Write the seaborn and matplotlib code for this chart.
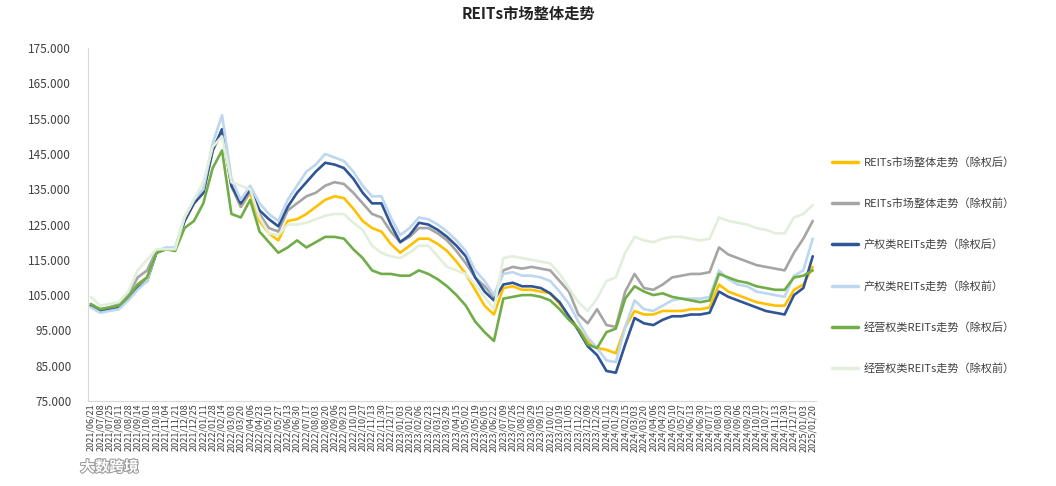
import pandas as pd
import seaborn as sns
import matplotlib.pyplot as plt
import matplotlib.patheffects as pe

# x axis: one label every 17 days, 2021/06/21 .. 2025/01/20
dates = pd.date_range("2021-06-21", periods=78, freq="17D")
tick_labels = list(dates.strftime("%Y/%m/%d"))

# values at each label date (thousands)
reits_after = [102, 101, 101, 102, 104.5, 108, 110, 117, 118, 118,
               126, 131, 134, 146, 151, 136, 130, 134, 126, 122.5,
               120.5, 126, 126.5, 128, 130, 132, 133, 132.5, 129.5, 126,
               124, 123, 119.5, 117, 119, 121, 121, 119.5, 117.5, 114.5,
               111, 106.5, 102, 99.5, 107, 107.5, 106.5, 106.5, 106, 105.5,
               102.5, 99, 95.5, 92, 90, 89.5, 88.5, 96, 100.5, 99.5,
               99.5, 100.5, 100.5, 100.5, 101, 101, 101.5, 108, 106, 105,
               104, 103, 102.5, 102, 102, 106.5, 108, 113]
reits_before = [102, 101, 101.5, 102.5, 105, 110, 112, 117.5, 118, 118,
                126, 131, 134, 146, 152, 136, 130, 134.5, 128, 124,
                123, 129, 131, 133, 134, 136, 137, 136.5, 134, 131,
                128, 127, 123, 120, 121.5, 124, 124, 122.5, 120.5, 117.5,
                114, 110, 107.5, 104.5, 112, 113, 112.5, 113, 112.5, 112,
                109, 106, 99.5, 97, 101, 96.5, 96, 106, 111, 107,
                106.5, 108, 110, 110.5, 111, 111, 111.5, 118.5, 116.5, 115.5,
                114.5, 113.5, 113, 112.5, 112, 117, 121, 126]
property_after = [102, 100.5, 101, 101.5, 104, 107, 109, 117, 118, 118,
                  126, 131, 134, 146, 152, 136, 131, 135, 129, 126.5,
                  124.5, 130, 134, 137, 140, 142.5, 142, 141, 138, 134,
                  131, 131, 125, 120, 122, 125.5, 125, 123.5, 121.5, 119,
                  116, 110, 106, 103.5, 108, 108.5, 107.5, 107.5, 107, 105.5,
                  103, 99, 95, 90.5, 88, 83.5, 83, 91, 98.5, 97,
                  96.5, 98, 99, 99, 99.5, 99.5, 100, 106, 104.5, 103.5,
                  102.5, 101.5, 100.5, 100, 99.5, 105, 107, 116]
property_before = [101.5, 100, 100.5, 101, 103.5, 106.5, 109, 117.5, 118.5, 118.5,
                   127, 132, 135, 148, 156, 138, 132, 136, 131, 128,
                   126, 132, 136, 140, 142, 145, 144, 143, 140, 136,
                   133, 133, 127, 122, 124, 127, 126.5, 125, 123, 120.5,
                   117.5, 112, 109, 105, 111, 111.5, 110.5, 110.5, 110, 109,
                   106, 102.5, 97.5, 93, 90, 86.5, 86, 96, 103.5, 101,
                   100.5, 102, 103.5, 104, 104, 104, 104.5, 112, 109.5, 108,
                   107.5, 106, 105.5, 105, 104.5, 110.5, 112, 121]
operating_after = [102.5, 101, 101.5, 102, 104.5, 108, 110, 117, 118, 117.5,
                   124, 126, 131, 141, 146, 128, 127, 132, 123, 120,
                   117, 118.5, 120.5, 118.5, 120, 121.5, 121.5, 121, 118, 115.5,
                   112, 111, 111, 110.5, 110.5, 112, 111, 109.5, 107.5, 105,
                   102, 97.5, 94.5, 92, 104, 104.5, 105, 105, 104.5, 103.5,
                   101, 98, 95.5, 91, 90, 94.5, 95.5, 104, 107.5, 106,
                   105, 105.5, 104.5, 104, 103.5, 103, 103.5, 111, 110, 109,
                   108.5, 107.5, 107, 106.5, 106.5, 110, 110.5, 112]
operating_before = [104.5, 102, 102.5, 103, 106, 112, 115, 118, 118, 118,
                    127, 132, 137, 147, 150, 137, 136, 135, 127, 122.5,
                    122, 125, 125, 125.5, 126.5, 127.5, 128, 128, 125.5, 123.5,
                    119, 117, 116, 115.5, 117, 119, 119, 116, 113, 112,
                    111, 108, 104.5, 101, 115.5, 116, 115.5, 115, 114.5, 114,
                    111, 107, 103, 100.5, 104, 109, 110, 117, 121.5, 120.5,
                    120, 121, 121.5, 121.5, 121, 120.5, 121, 127, 126, 125.5,
                    125, 124, 123.5, 122.5, 122.5, 127, 128, 130.5]

names = ["REITs市场整体走势（除权后）", "REITs市场整体走势（除权前）",
         "产权类REITs走势（除权后）", "产权类REITs走势（除权前）",
         "经营权类REITs走势（除权后）", "经营权类REITs走势（除权前）"]
colors = ["#FFC000", "#A5A5A5", "#2F5597", "#BDD7EE", "#70AD47", "#E2EFDA"]

wide = pd.DataFrame(dict(zip(names, [reits_after, reits_before, property_after,
                                     property_before, operating_after, operating_before])))
wide["idx"] = range(len(tick_labels))
long = wide.melt(id_vars="idx", var_name="series", value_name="value")

sns.set_style("white")
plt.rcParams["font.family"] = ["Noto Sans CJK SC", "DejaVu Sans"]

fig = plt.figure(figsize=(10.56, 4.86), dpi=100)
ax = fig.add_axes([0.0833, 0.175, 0.689, 0.726])
sns.lineplot(data=long, x="idx", y="value", hue="series", hue_order=names,
             palette=colors, linewidth=1.9, ax=ax)

ax.set_xlim(-0.3, len(tick_labels) - 0.7)
ax.set_ylim(75, 175)
ax.set_yticks(range(75, 176, 10))
ax.set_yticklabels([f"{v:.3f}" for v in range(75, 176, 10)], fontsize=8.5, color="#404040")
ax.set_xticks(range(len(tick_labels)))
ax.set_xticklabels(tick_labels, rotation=90, fontsize=6.5, color="#404040")
ax.tick_params(axis="y", length=0, pad=12)
ax.tick_params(axis="x", length=0, pad=2)
ax.set_xlabel("")
ax.set_ylabel("")
for s in ["top", "right"]:
    ax.spines[s].set_visible(False)
for s in ["left", "bottom"]:
    ax.spines[s].set_color("#d9d9d9")
    ax.spines[s].set_linewidth(0.8)

handles, labels = ax.get_legend_handles_labels()
ax.get_legend().remove()
for h in handles:
    h.set_linewidth(2.5)
fig.legend(handles, labels, loc="upper left", bbox_to_anchor=(0.778, 0.698),
           frameon=False, fontsize=8, labelspacing=2.75, handlelength=2.4,
           handletextpad=0.5, labelcolor="#404040")

fig.text(0.5, 0.972, "REITs市场整体走势", ha="center", va="center",
         fontsize=11, fontweight="bold", color="#222222")
fig.text(0.076, 0.04, "大数跨境", ha="left", va="center", fontsize=10.5,
         color="white", fontweight="bold",
         path_effects=[pe.withStroke(linewidth=1.5, foreground="#9a9a9a")])

fig.savefig("out.png", dpi=100)
